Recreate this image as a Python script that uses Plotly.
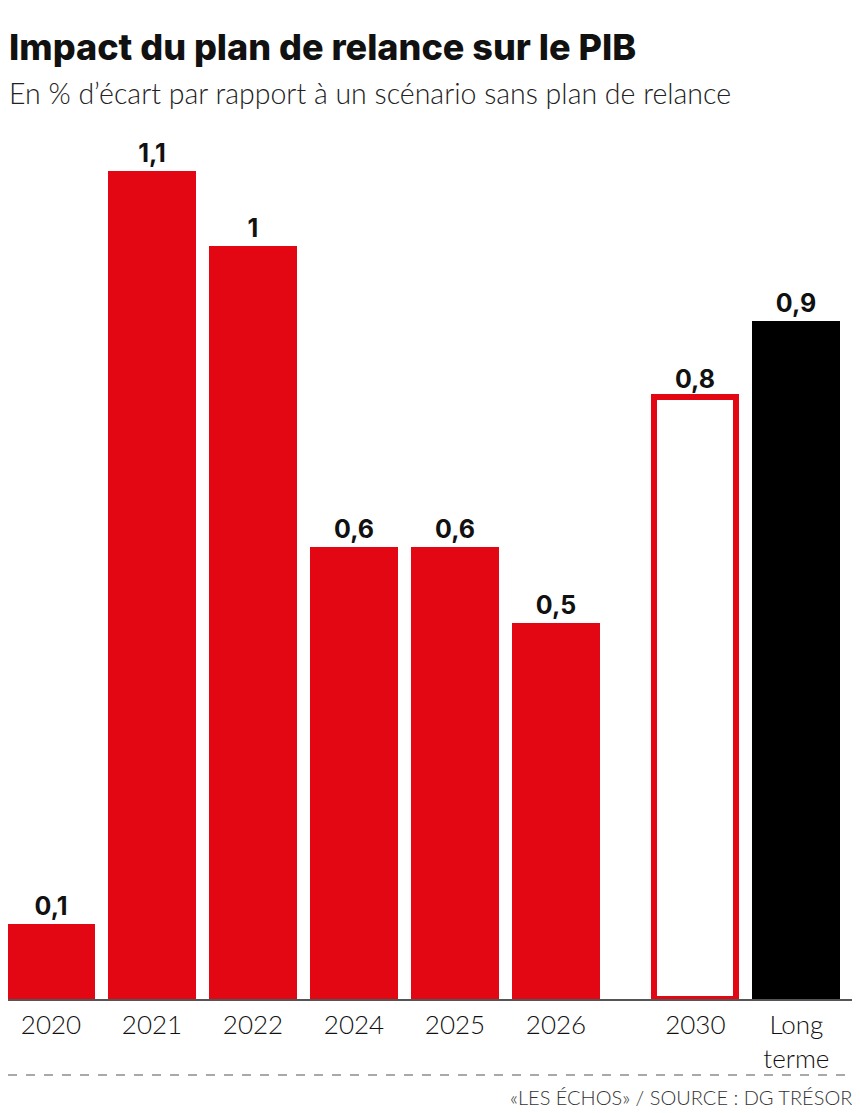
import plotly.graph_objects as go

categories = ["2020", "2021", "2022", "2024", "2025", "2026", "2030", "Long<br>terme"]
values = [0.1, 1.1, 1.0, 0.6, 0.6, 0.5, 0.8, 0.9]
positions = [0, 1, 2, 3, 4, 5, 6.38, 7.38]
labels = ["0,1", "1,1", "1", "0,6", "0,6", "0,5", "0,8", "0,9"]

RED = "#E30613"
OFF = 8  # page body margin
W, H = 860 - OFF, 1113 - OFF
MT, MB = 100, 114
ph = H - MT - MB


def py(p):
    """page pixel y -> paper coordinate"""
    return (H - MB - (p - OFF)) / ph


def px(p):
    return (p - OFF) / W


fig = go.Figure()
label_font = dict(family="Inter", size=25, color="#111", weight=700)

fig.add_trace(go.Bar(
    x=positions[:6], y=values[:6], width=0.87,
    marker=dict(color=RED, line=dict(width=0)),
    text=labels[:6], textposition="outside", textfont=label_font,
    cliponaxis=False, hoverinfo="skip",
))
fig.add_trace(go.Bar(
    x=[positions[6]], y=[values[6]], width=0.81,
    marker=dict(color="white", line=dict(color=RED, width=6)),
    text=[labels[6]], textposition="outside", textfont=label_font,
    cliponaxis=False, hoverinfo="skip",
))
fig.add_trace(go.Bar(
    x=[positions[7]], y=[values[7]], width=0.87,
    marker=dict(color="#000000", line=dict(width=0)),
    text=[labels[7]], textposition="outside", textfont=label_font,
    cliponaxis=False, hoverinfo="skip",
))

fig.update_layout(
    width=W, height=H,
    margin=dict(l=0, r=0, t=MT, b=MB),
    paper_bgcolor="white", plot_bgcolor="white",
    showlegend=False, bargap=0,
    xaxis=dict(
        range=[-0.4257, 8.01], tickvals=positions, ticktext=categories,
        showgrid=False, zeroline=False, showline=True, linecolor="#555",
        linewidth=1.5, ticks="", ticklabelstandoff=2,
        tickfont=dict(family="Lato", size=26, color="#111", weight=300),
        fixedrange=True,
    ),
    yaxis=dict(range=[0, ph / 753], visible=False, fixedrange=True),
    annotations=[
        dict(text="Impact du plan de relance sur le PIB", xref="paper", yref="paper",
             x=px(7), y=py(47), xanchor="left", yanchor="middle", showarrow=False,
             font=dict(family="Inter", size=36, color="#111", weight=800)),
        dict(text="En % d’écart par rapport à un scénario sans plan de relance",
             xref="paper", yref="paper", x=px(7), y=py(93), xanchor="left",
             yanchor="middle", showarrow=False,
             font=dict(family="Lato", size=28.5, color="#222", weight=300)),
        dict(text="«LES ÉCHOS» / SOURCE : DG TRÉSOR", xref="paper", yref="paper",
             x=px(854), y=py(1097), xanchor="right", yanchor="middle", showarrow=False,
             font=dict(family="Lato", size=20, color="#333", weight=300)),
    ],
    shapes=[
        dict(type="line", xref="paper", yref="paper", x0=0, x1=1,
             y0=py(1075), y1=py(1075), line=dict(color="#555", width=1.2, dash="dash")),
    ],
)

fig.write_html("out.html")
